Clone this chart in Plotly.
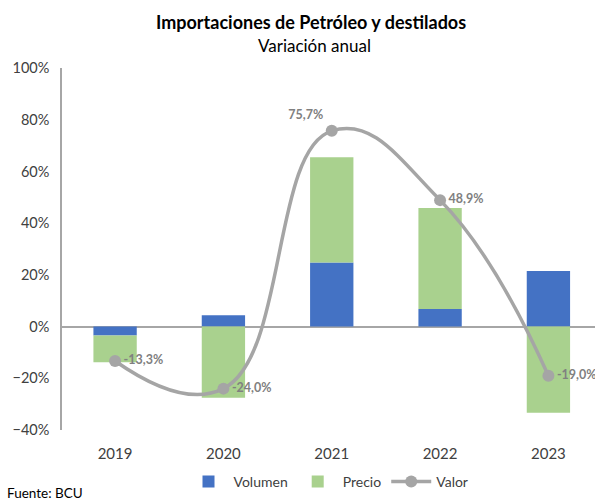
import plotly.graph_objects as go

years = ["2019", "2020", "2021", "2022", "2023"]
volumen = [-3.5, 4.4, 24.8, 6.8, 21.5]
precio = [-10.3, -27.5, 40.7, 39.1, -33.3]
valor = [-13.3, -24.0, 75.7, 48.9, -19.0]
valor_labels = ["-13,3%", "-24,0%", "75,7%", "48,9%", "-19,0%"]
label_pos = ["middle right", "middle right", "top left", "middle right", "middle right"]

FONT = "Lato"
W, H = 595, 502
TOP, BOT = 68, 430  # plot area pixel rows


def py(p):
    return (BOT - p) / (BOT - TOP)


fig = go.Figure()
fig.add_trace(go.Bar(x=years, y=volumen, name="Volumen", marker_color="#4472C4",
                     marker_line_width=0))
fig.add_trace(go.Bar(x=years, y=precio, name="Precio", marker_color="#A9D18E",
                     marker_line_width=0))
fig.add_trace(go.Scatter(x=years, y=valor, name="Valor", mode="lines+markers+text",
                         line=dict(color="#A5A5A5", width=3.5, shape="spline", smoothing=1.3),
                         marker=dict(color="#A5A5A5", size=12),
                         text=valor_labels, textposition=label_pos,
                         textfont=dict(family=FONT, size=12.5, color="#808080", weight="bold"),
                         cliponaxis=False))

fig.update_layout(
    width=W, height=H,
    margin=dict(l=62, r=0, t=TOP, b=H - BOT, autoexpand=False),
    barmode="relative", bargap=0.6,
    plot_bgcolor="white", paper_bgcolor="white",
    font=dict(family=FONT, size=14, color="#404040"),
    showlegend=True,
    legend=dict(orientation="h", x=0.5, xanchor="center", y=py(482), yref="paper",
                yanchor="middle", font=dict(size=14, color="#404040"), traceorder="normal",
                itemwidth=40),
    annotations=[
        dict(text="<b>Importaciones de Petróleo y destilados</b>", xref="paper", yref="paper",
             x=(311 - 62) / 533, y=py(22), showarrow=False,
             font=dict(size=18, color="#000000", family=FONT), xanchor="center", yanchor="middle"),
        dict(text="Variación anual", xref="paper", yref="paper",
             x=(314 - 62) / 533, y=py(45), showarrow=False,
             font=dict(size=17, color="#000000", family=FONT), xanchor="center", yanchor="middle"),
        dict(text="Fuente: BCU", xref="paper", yref="paper", x=0, xshift=-57, y=py(493),
             showarrow=False, xanchor="left", yanchor="middle",
             font=dict(size=13.5, color="#000000", family=FONT)),
    ],
)
fig.update_xaxes(type="category", range=[-0.49, 4.43], showline=False, showgrid=False,
                 automargin=False,
                 ticks="outside", ticklen=10, tickcolor="rgba(0,0,0,0)",
                 tickfont=dict(size=15, color="#404040"))
fig.update_yaxes(range=[-40, 100], dtick=20, ticksuffix="%", showgrid=False,
                 automargin=False,
                 ticks="outside", ticklen=8, tickcolor="rgba(0,0,0,0)",
                 showline=True, linecolor="#A6A6A6", linewidth=1.5,
                 zeroline=True, zerolinecolor="#A6A6A6", zerolinewidth=1.5,
                 tickfont=dict(size=14.5, color="#404040"))

fig.write_html("out.html", config={"displayModeBar": False},
               post_script="document.body.style.margin='0';")
